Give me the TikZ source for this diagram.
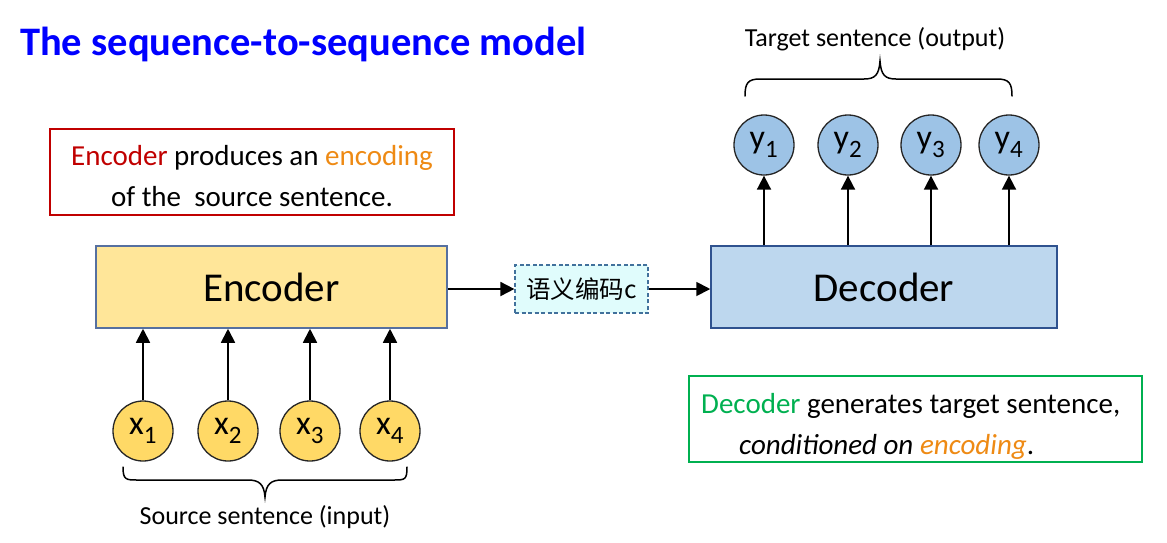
\documentclass[tikz,border=0pt]{standalone}
\usepackage{fontspec}
\setmainfont{Carlito}
\newfontfamily\cjk{Noto Sans CJK SC}
\usetikzlibrary{arrows.meta}
\definecolor{titleblue}{HTML}{0000FF}
\definecolor{encred}{HTML}{C00000}
\definecolor{encorange}{HTML}{EE8A14}
\definecolor{decgreen}{HTML}{00B050}
\definecolor{encfill}{HTML}{FFE699}
\definecolor{encdraw}{HTML}{5670A0}
\definecolor{decfill}{HTML}{BDD7EE}
\definecolor{decdraw}{HTML}{2F528F}
\definecolor{xfill}{HTML}{FFD966}
\definecolor{yfill}{HTML}{9DC3E6}
\definecolor{cfill}{HTML}{E0FCFC}
\definecolor{cdraw}{HTML}{41719C}
\tikzset{
  fs/.style={font=\fontsize{#1}{#1}\selectfont},
  bigbox/.style={draw=#1, line width=1.5pt, minimum height=82pt, inner sep=0pt},
  xnode/.style={circle, draw=black!85, line width=1.3pt, fill=xfill, minimum size=60pt, inner sep=0pt, fs=34},
  ynode/.style={circle, draw=black!85, line width=1.3pt, fill=yfill, minimum size=60pt, inner sep=0pt, fs=34},
  arr/.style={line width=1.8pt, -{Triangle[width=14pt,length=14pt]}},
  note/.style={draw=#1, line width=1.5pt, inner sep=0pt},
  bracepath/.style={line width=1.5pt, line cap=round},
}
\begin{document}
\begin{tikzpicture}[x=1pt,y=-1pt]
\useasboundingbox (0,0) rectangle (1167,542);
% title
\node[anchor=base west, inner sep=0pt, text=titleblue, font=\bfseries\fontsize{40.5}{40.5}\selectfont] (title) at (20,55) {The sequence-to-sequence model};

% encoder note
\node[note=encred, minimum width=404pt, minimum height=86pt] (encnote) at (252,172) {};
\node[anchor=base, inner sep=0pt, fs=29] (encl1) at (252,165) {\textcolor{encred}{Encoder} produces an \textcolor{encorange}{encoding}};
\node[anchor=base, inner sep=0pt, fs=29] (encl2) at (252,206) {of the\ \ source sentence.};

% encoder
\node[bigbox=encdraw, fill=encfill, minimum width=351pt, fs=41] (enc) at (271.5,287) {Encoder};
% decoder
\node[bigbox=decdraw, fill=decfill, minimum width=346pt, fs=41] (dec) at (884,287) {Decoder};
% context
\node[draw=cdraw, dash pattern=on 4pt off 2.5pt, line width=1.2pt, fill=cfill, minimum width=133pt, minimum height=48pt, inner sep=0pt, font=\cjk\fontsize{24.5}{24.5}\selectfont] (ctx) at (581.5,289) {语义编码c};

\draw[arr] (enc.east |- ctx.west) -- (ctx.west);
\draw[arr] (ctx.east) -- (dec.west |- ctx.east);

% x nodes
\foreach \i/\xx in {1/143,2/228,3/310,4/390}{
  \node[xnode] (x\i) at (\xx,431) {x\textsubscript{\fontsize{25}{25}\selectfont\raisebox{-6pt}{\i}}};
  \draw[arr] (x\i.north) -- (x\i.north |- enc.south);
}
% y nodes
\foreach \i/\xx in {1/764,2/848,3/931,4/1009}{
  \node[ynode] (y\i) at (\xx,145) {y\textsubscript{\fontsize{25}{25}\selectfont\raisebox{-6pt}{\i}}};
  \draw[arr] (y\i.south |- dec.north) -- (y\i.south);
}

% bottom brace
\draw[bracepath] (123,467) .. controls (123,480) and (126,480) .. (138,480) -- (248,480)
  .. controls (259,480) and (264,484) .. (265,497) .. controls (266,484) and (271,480) .. (282,480)
  -- (393,480) .. controls (405,480) and (407,480) .. (407,467);
\node[anchor=base, inner sep=0pt, fs=26] (src) at (265,524) {Source sentence (input)};

% top brace
\draw[bracepath] (745,96) .. controls (745,83) and (748,79) .. (760,79) -- (864,79)
  .. controls (875,79) and (879,75) .. (880,61) .. controls (881,75) and (885,79) .. (896,79)
  -- (997,79) .. controls (1009,79) and (1012,83) .. (1012,96);
\node[anchor=base, inner sep=0pt, fs=26] (tgt) at (875,46) {Target sentence (output)};

% decoder note
\node[note=decgreen, minimum width=453pt, minimum height=86pt] (decnote) at (915.5,419) {};
\node[anchor=base west, inner sep=0pt, fs=29] (decl1) at (701,413) {\textcolor{decgreen}{Decoder} generates target sentence,};
\node[anchor=base west, inner sep=0pt, fs=29] (decl2) at (739,454) {\textit{conditioned on \textcolor{encorange}{encoding}}.};
\end{tikzpicture}
\end{document}
